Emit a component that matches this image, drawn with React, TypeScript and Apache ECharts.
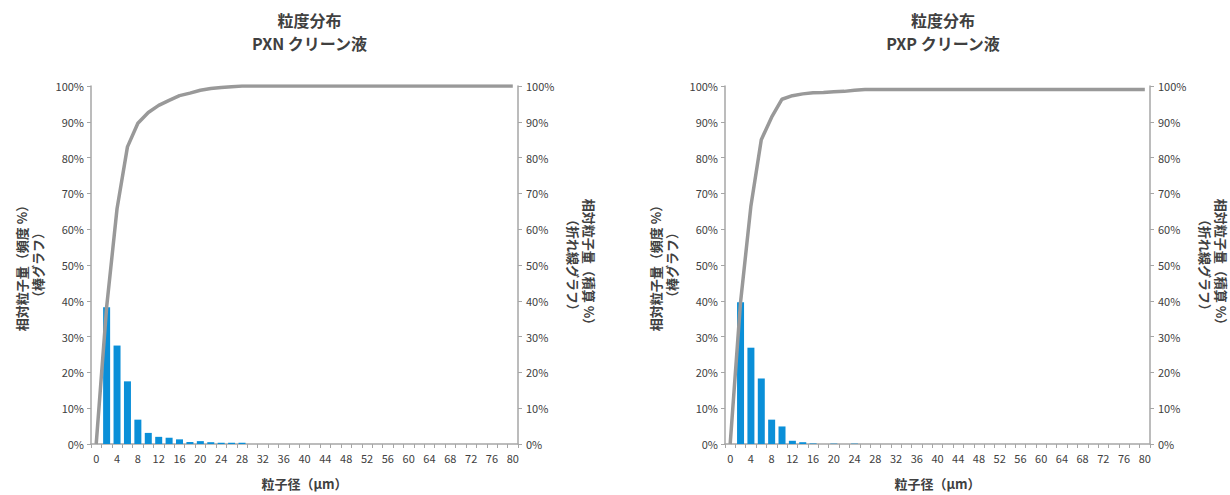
import React, { useEffect, useRef } from "react";
import * as echarts from "echarts";

const categories = [
  "0", "2", "4", "6", "8", "10", "12", "14", "16", "18", "20", "22", "24", "26",
  "28", "30", "32", "34", "36", "38", "40", "42", "44", "46", "48", "50", "52",
  "54", "56", "58", "60", "62", "64", "66", "68", "70", "72", "74", "76", "78", "80",
];

const pxnFreq = [
  0, 38.2, 27.5, 17.5, 6.8, 3.1, 2.0, 1.75, 1.3, 0.55, 0.8, 0.5, 0.35, 0.35, 0.35,
  0, 0, 0, 0, 0, 0, 0, 0, 0, 0, 0, 0, 0, 0, 0, 0, 0, 0, 0, 0, 0, 0, 0, 0, 0, 0,
];
const pxnCum = [
  0, 38.2, 65.7, 83.0, 89.6, 92.6, 94.6, 96.0, 97.3, 98.0, 98.8, 99.3, 99.6, 99.8, 100,
  100, 100, 100, 100, 100, 100, 100, 100, 100, 100, 100, 100, 100, 100, 100, 100,
  100, 100, 100, 100, 100, 100, 100, 100, 100, 100,
];

const pxpFreq = [
  0, 39.6, 26.9, 18.3, 6.8, 4.9, 0.9, 0.5, 0.15, 0, 0.1, 0, 0.1, 0, 0,
  0, 0, 0, 0, 0, 0, 0, 0, 0, 0, 0, 0, 0, 0, 0, 0, 0, 0, 0, 0, 0, 0, 0, 0, 0, 0,
];
const pxpCum = [
  0, 39.6, 66.5, 85.0, 91.3, 96.3, 97.3, 97.8, 98.1, 98.2, 98.4, 98.5, 98.8, 99, 99,
  99, 99, 99, 99, 99, 99, 99, 99, 99, 99, 99, 99, 99, 99, 99, 99,
  99, 99, 99, 99, 99, 99, 99, 99, 99, 99,
];

const titles = ["粒度分布\nPXN クリーン液", "粒度分布\nPXP クリーン液"];
const xName = "粒子径（μm）";
const leftYName = "相対粒子量（頻度 %）\n（棒グラフ）";
const rightYName = "相対粒子量（積算 %）\n（折れ線グラフ）";

const FONT = "'Noto Sans CJK JP', 'Noto Sans', sans-serif";
const AXIS = "#a6a6a6";
const TEXT = "#404040";
const BAR = "#0a8fd8";
const LINE = "#999999";

const grids = [
  { left: 91, top: 86, width: 427, height: 364 },
  { left: 725, top: 86, width: 426, height: 364 },
];

export default function App() {
  const ref = useRef<HTMLDivElement>(null);
  useEffect(() => {
    if (!ref.current) return;
    const chart = echarts.init(ref.current, undefined, { renderer: "svg" });
    const xAxes = grids.map((_, i) => ({
      type: "category",
      gridIndex: i,
      data: categories,
      boundaryGap: true,
      name: xName,
      nameLocation: "middle",
      nameGap: 33,
      nameTextStyle: { color: TEXT, fontSize: 13, fontWeight: "bold", fontFamily: FONT },
      axisLine: { lineStyle: { color: AXIS, width: 1.5 } },
      axisTick: { show: true, interval: 0, length: 4, lineStyle: { color: AXIS } },
      axisLabel: { interval: 1, color: TEXT, fontSize: 11, margin: 8, fontFamily: FONT },
      splitLine: { show: false },
    }));
    const yAxes: any[] = [];
    grids.forEach((_, i) => {
      yAxes.push({
        type: "value",
        gridIndex: i,
        position: "left",
        min: 0,
        max: 100,
        interval: 10,
        name: leftYName,
        nameLocation: "middle",
        nameRotate: 90,
        nameGap: 46,
        nameTextStyle: { color: TEXT, fontSize: 13, fontWeight: "bold", fontFamily: FONT, lineHeight: 16 },
        axisLine: { show: true, lineStyle: { color: AXIS, width: 1.5 } },
        axisTick: { show: true, length: 4, lineStyle: { color: AXIS } },
        axisLabel: { formatter: "{value}%", color: TEXT, fontSize: 11, margin: 7, fontFamily: FONT },
        splitLine: { show: false },
      });
      yAxes.push({
        type: "value",
        gridIndex: i,
        position: "right",
        min: 0,
        max: 100,
        interval: 10,
        name: rightYName,
        nameLocation: "middle",
        nameRotate: -90,
        nameGap: 47,
        nameTextStyle: { color: TEXT, fontSize: 13, fontWeight: "bold", fontFamily: FONT, lineHeight: 16 },
        axisLine: { show: true, lineStyle: { color: AXIS, width: 1.5 } },
        axisTick: { show: true, length: 4, lineStyle: { color: AXIS } },
        axisLabel: { formatter: "{value}%", color: TEXT, fontSize: 11, margin: 8, fontFamily: FONT },
        splitLine: { show: false },
      });
    });
    const freqs = [pxnFreq, pxpFreq];
    const cums = [pxnCum, pxpCum];
    const series: any[] = [];
    grids.forEach((_, i) => {
      series.push({
        type: "bar",
        xAxisIndex: i,
        yAxisIndex: i * 2,
        data: freqs[i],
        barWidth: 7,
        itemStyle: { color: BAR },
        z: 2,
      });
      series.push({
        type: "line",
        xAxisIndex: i,
        yAxisIndex: i * 2 + 1,
        data: cums[i],
        showSymbol: false,
        symbol: "none",
        lineStyle: { color: LINE, width: 3.5 },
        z: 3,
      });
    });
    chart.setOption({
      animation: false,
      backgroundColor: "#ffffff",
      textStyle: { fontFamily: FONT },
      title: titles.map((t, i) => ({
        text: t,
        left: grids[i].left + grids[i].width / 2,
        top: 3,
        textAlign: "center",
        textStyle: { color: TEXT, fontSize: 16, fontWeight: "bold", fontFamily: FONT, lineHeight: 23 },
      })),
      grid: grids,
      xAxis: xAxes,
      yAxis: yAxes,
      series,
    });
    return () => chart.dispose();
  }, []);
  return (
    <div
      ref={ref}
      style={{ position: "fixed", left: 0, top: 0, width: 1230, height: 495 }}
    />
  );
}
